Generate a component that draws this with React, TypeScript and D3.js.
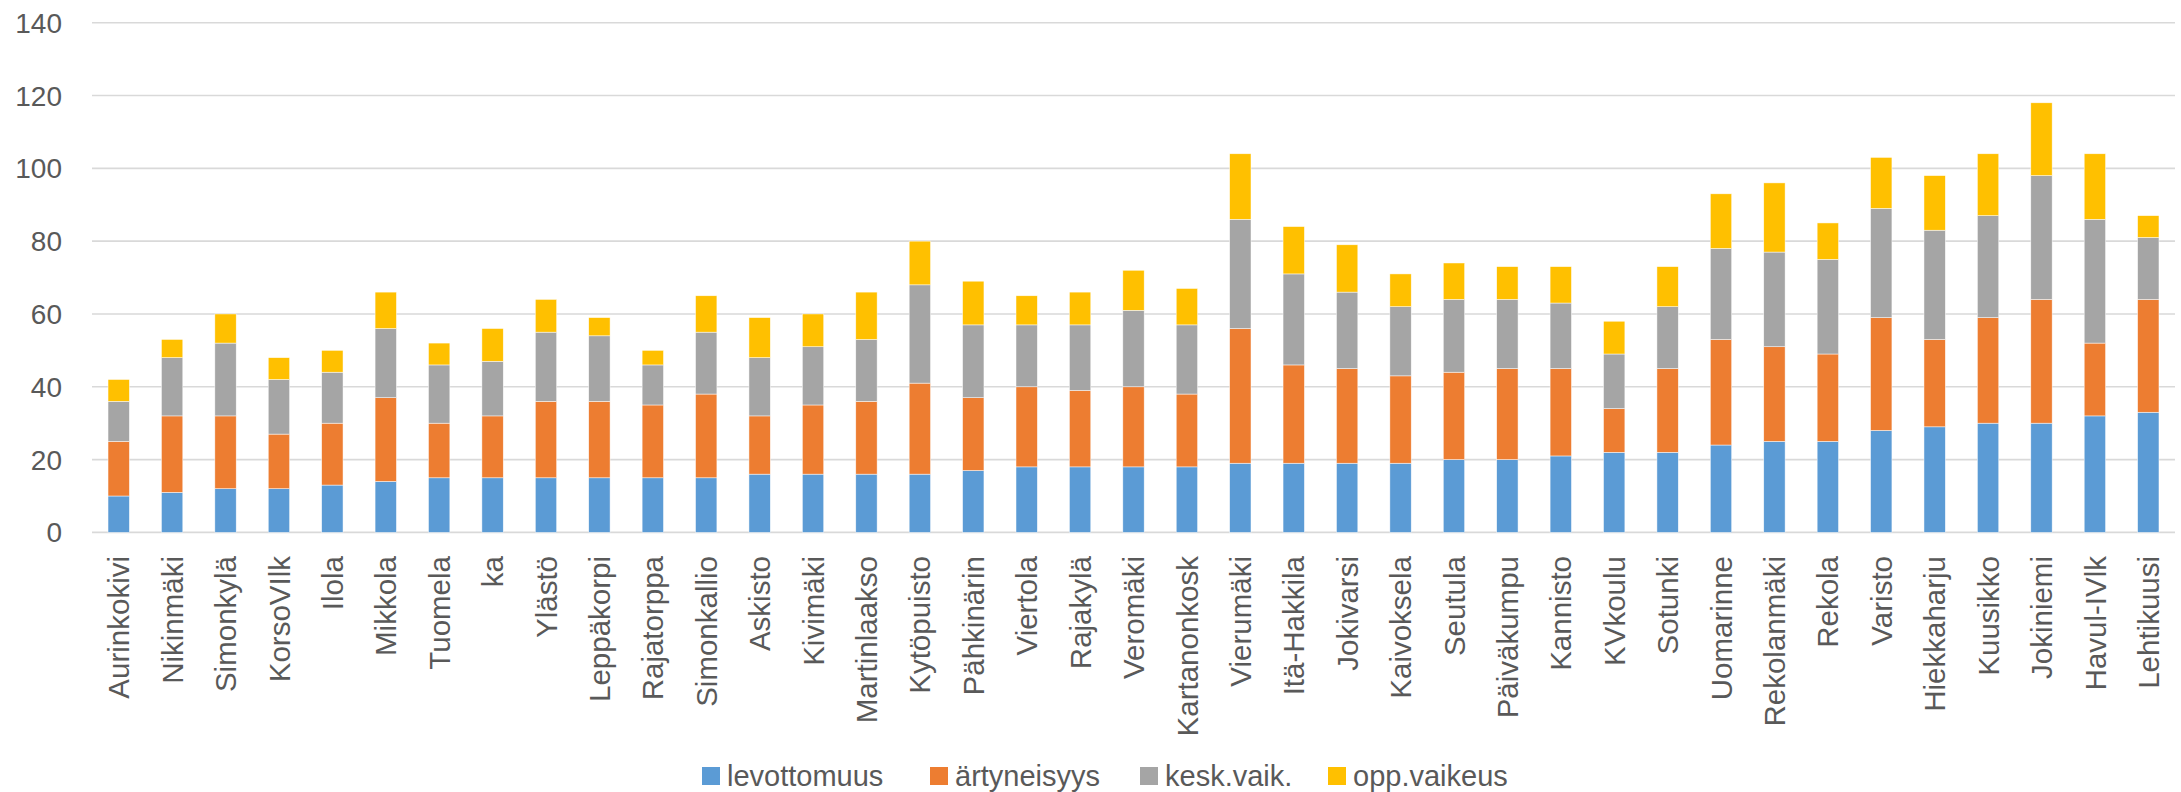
import React from "react";
import * as d3 from "d3";

const categories = [
  "Aurinkokivi", "Nikinmäki", "Simonkylä", "KorsoVIlk", "Ilola", "Mikkola", "Tuomela", "ka", "Ylästö",
  "Leppäkorpi", "Rajatorppa", "Simonkallio", "Askisto", "Kivimäki", "Martinlaakso", "Kytöpuisto",
  "Pähkinärin", "Viertola", "Rajakylä", "Veromäki", "Kartanonkosk", "Vierumäki", "Itä-Hakkila",
  "Jokivarsi", "Kaivoksela", "Seutula", "Päiväkumpu", "Kannisto", "KVkoulu", "Sotunki", "Uomarinne",
  "Rekolanmäki", "Rekola", "Varisto", "Hiekkaharju", "Kuusikko", "Jokiniemi", "Havul-IVlk", "Lehtikuusi",
];

const levottomuus = [10, 11, 12, 12, 13, 14, 15, 15, 15, 15, 15, 15, 16, 16, 16, 16, 17, 18, 18, 18, 18, 19, 19, 19, 19, 20, 20, 21, 22, 22, 24, 25, 25, 28, 29, 30, 30, 32, 33];
const artyneisyys = [15, 21, 20, 15, 17, 23, 15, 17, 21, 21, 20, 23, 16, 19, 20, 25, 20, 22, 21, 22, 20, 37, 27, 26, 24, 24, 25, 24, 12, 23, 29, 26, 24, 31, 24, 29, 34, 20, 31];
const keskVaik = [11, 16, 20, 15, 14, 19, 16, 15, 19, 18, 11, 17, 16, 16, 17, 27, 20, 17, 18, 21, 19, 30, 25, 21, 19, 20, 19, 18, 15, 17, 25, 26, 26, 30, 30, 28, 34, 34, 17];
const oppVaikeus = [6, 5, 8, 6, 6, 10, 6, 9, 9, 5, 4, 10, 11, 9, 13, 12, 12, 8, 9, 11, 10, 18, 13, 13, 9, 10, 9, 10, 9, 11, 15, 19, 10, 14, 15, 17, 20, 18, 6];

const seriesNames = ["levottomuus", "ärtyneisyys", "kesk.vaik.", "opp.vaikeus"];
const seriesColors = ["#5B9BD5", "#ED7D31", "#A5A5A5", "#FFC000"];
const yTicks = [0, 20, 40, 60, 80, 100, 120, 140];

const W = 2181;
const H = 792;
const M = { left: 92, right: 6, top: 22.7, bottom: 259.6 };
const FONT = "'Liberation Sans', Arial, sans-serif";
const TEXT = "#595959";

export default function App() {
  const rows = categories.map((c, i) => ({
    cat: c,
    s0: levottomuus[i],
    s1: artyneisyys[i],
    s2: keskVaik[i],
    s3: oppVaikeus[i],
  }));
  const keys = ["s0", "s1", "s2", "s3"];
  const stacked = d3.stack<any>().keys(keys)(rows);

  const x = d3
    .scaleBand<string>()
    .domain(categories)
    .range([M.left, W - M.right])
    .paddingInner(0.6)
    .paddingOuter(0.3);
  const y = d3.scaleLinear().domain([0, 140]).range([H - M.bottom, M.top]);

  const legendX = [702, 930, 1140, 1328];
  const legendY = 776;

  return (
    <svg
      width={W}
      height={H}
      style={{ position: "absolute", left: 0, top: 0, background: "#fff" }}
      fontFamily={FONT}
    >
      <rect x={0} y={0} width={W} height={H} fill="#fff" />
      {yTicks.map((t) => (
        <g key={t}>
          <line x1={M.left} x2={W - M.right} y1={y(t)} y2={y(t)} stroke="#D9D9D9" strokeWidth={1.6} />
          <text x={62} y={y(t)} dy="0.36em" textAnchor="end" fontSize={28} fill={TEXT}>
            {t}
          </text>
        </g>
      ))}
      {stacked.map((s, si) => (
        <g key={si} fill={seriesColors[si]}>
          {s.map((d: any, i: number) => (
            <rect
              key={i}
              x={x(categories[i])}
              width={x.bandwidth()}
              y={y(d[1])}
              height={y(d[0]) - y(d[1])}
              stroke="#ffffff"
              strokeWidth={0.6}
              strokeOpacity={0.8}
            />
          ))}
        </g>
      ))}
      {categories.map((c) => {
        const cx = (x(c) as number) + x.bandwidth() / 2;
        return (
          <text
            key={c}
            transform={`translate(${cx},556) rotate(-90)`}
            textAnchor="end"
            dy="0.36em"
            fontSize={29.5}
            fill={TEXT}
          >
            {c}
          </text>
        );
      })}
      {seriesNames.map((n, i) => (
        <g key={n}>
          <rect x={legendX[i]} y={legendY - 9} width={18} height={18} fill={seriesColors[i]} />
          <text x={legendX[i] + 25} y={legendY} dy="0.36em" fontSize={29} fill={TEXT}>
            {n}
          </text>
        </g>
      ))}
    </svg>
  );
}
